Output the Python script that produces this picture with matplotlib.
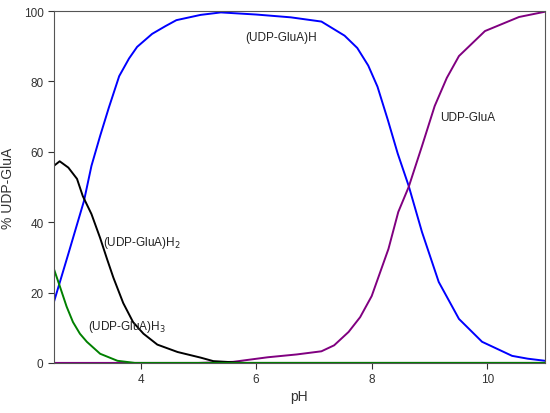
import matplotlib.pyplot as plt

plt.rcParams['font.family'] = ['Liberation Sans', 'DejaVu Sans']

# (UDP-GluA)H  - blue
ph_h = [2.5, 2.75, 3.02, 3.15, 3.3, 3.45, 3.63, 3.8, 3.94, 4.2, 4.43, 4.62, 5.04, 5.39,
        6.0, 6.6, 7.13, 7.53, 7.75, 7.94, 8.1, 8.28, 8.45, 8.64, 8.87, 9.16, 9.51, 9.91,
        10.43, 10.7, 11.0]
y_h = [17.3, 31.0, 46.0, 56.0, 64.5, 72.5, 81.5, 86.5, 89.8, 93.5, 95.7, 97.4, 98.9, 99.6,
       99.0, 98.2, 97.0, 93.0, 89.5, 84.5, 78.5, 69.0, 59.5, 50.3, 37.2, 23.0, 12.5, 6.0,
       2.0, 1.2, 0.6]

# UDP-GluA  - purple
ph_a = [2.5, 5.0, 5.6, 6.2, 6.7, 7.13, 7.35, 7.6, 7.8, 8.0, 8.29, 8.46, 8.64, 8.87,
        9.09, 9.3, 9.51, 9.96, 10.55, 11.0]
y_a = [0.0, 0.0, 0.3, 1.6, 2.4, 3.3, 5.0, 8.8, 13.0, 19.0, 32.4, 42.9, 50.0, 61.6,
       73.0, 81.0, 87.2, 94.3, 98.3, 99.8]

# (UDP-GluA)H2  - black
ph_h2 = [2.5, 2.6, 2.75, 2.9, 3.0, 3.15, 3.3, 3.42, 3.53, 3.7, 3.87, 4.05, 4.29, 4.64,
         5.04, 5.26, 5.8, 11.0]
y_h2 = [56.0, 57.3, 55.5, 52.3, 47.4, 42.3, 35.5, 29.5, 24.2, 17.0, 11.6, 8.3, 5.2, 3.1,
        1.5, 0.5, 0.0, 0.0]

# (UDP-GluA)H3  - green
ph_h3 = [2.5, 2.6, 2.72, 2.83, 2.95, 3.07, 3.3, 3.6, 3.9, 11.0]
y_h3 = [26.7, 21.9, 16.0, 11.6, 8.3, 6.0, 2.6, 0.6, 0.0, 0.0]

fig, ax = plt.subplots(figsize=(5.5, 4.14), dpi=100)
fig.subplots_adjust(left=0.098, right=0.991, top=0.971, bottom=0.121)

ax.plot(ph_h, y_h, color='#0000ff', lw=1.4)
ax.plot(ph_a, y_a, color='#800080', lw=1.4)
ax.plot(ph_h2, y_h2, color='black', lw=1.4)
ax.plot(ph_h3, y_h3, color='#008000', lw=1.4)

ax.text(5.82, 92.6, '(UDP-GluA)H', fontsize=8.5, va='center', color='#222222')
ax.text(9.18, 69.9, 'UDP-GluA', fontsize=8.5, va='center', color='#222222')
ax.text(3.35, 34.4, '(UDP-GluA)H$_2$', fontsize=8.5, va='center', color='#222222')
ax.text(3.09, 10.5, '(UDP-GluA)H$_3$', fontsize=8.5, va='center', color='#222222')

ax.set_xlim(2.5, 11.0)
ax.set_ylim(0, 100)
ax.set_xticks([4, 6, 8, 10])
ax.set_yticks([0, 20, 40, 60, 80, 100])
ax.tick_params(labelsize=8.5, colors='#333333', length=4)
for s in ax.spines.values():
    s.set_color('#555555')
ax.set_xlabel('pH', fontsize=10, color='#333333', labelpad=3)
ax.set_ylabel('% UDP-GluA', fontsize=10, color='#333333', labelpad=6)

fig.savefig('out.png')
